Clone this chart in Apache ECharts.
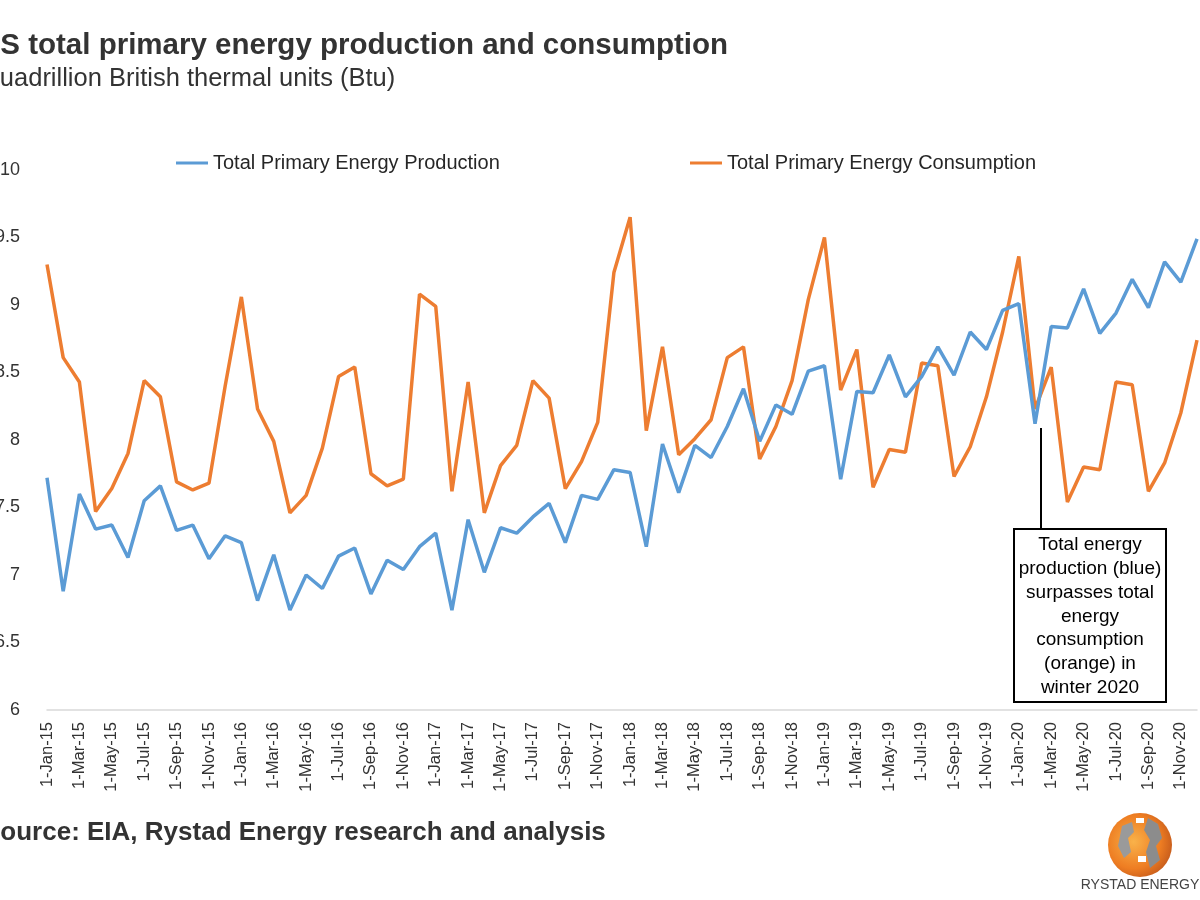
<!DOCTYPE html>
<html>
<head>
<meta charset="utf-8">
<script src="https://cdn.jsdelivr.net/npm/echarts@6/dist/echarts.min.js"></script>
<style>
html,body{margin:0;padding:0;background:#fff;}
#chart{width:1200px;height:900px;}
</style>
</head>
<body>
<div id="chart"></div>
<script>
const monthNames = ['Jan','Feb','Mar','Apr','May','Jun','Jul','Aug','Sep','Oct','Nov','Dec'];
const years = ['15','16','17','18','19','20'];
const categories = [];
years.forEach(y => monthNames.forEach(m => categories.push('1-' + m + '-' + y)));

const production = [
  7.72, 6.88, 7.60, 7.34, 7.37, 7.13, 7.55, 7.66, 7.33, 7.37, 7.12, 7.29,
  7.24, 6.81, 7.15, 6.74, 7.00, 6.90, 7.14, 7.20, 6.86, 7.11, 7.04, 7.21,
  7.31, 6.74, 7.41, 7.02, 7.35, 7.31, 7.43, 7.53, 7.24, 7.59, 7.56, 7.78,
  7.76, 7.21, 7.97, 7.61, 7.96, 7.87, 8.10, 8.38, 7.99, 8.26, 8.19, 8.51,
  8.55, 7.71, 8.36, 8.35, 8.63, 8.32, 8.47, 8.69, 8.48, 8.80, 8.67, 8.96,
  9.01, 8.12, 8.84, 8.83, 9.12, 8.79, 8.94, 9.19, 8.98, 9.32, 9.17, 9.49
];
const consumption = [
  9.30, 8.61, 8.43, 7.47, 7.64, 7.90, 8.44, 8.32, 7.69, 7.63, 7.68, 8.40,
  9.06, 8.23, 7.99, 7.46, 7.59, 7.94, 8.47, 8.54, 7.75, 7.66, 7.71, 9.08,
  8.99, 7.62, 8.43, 7.46, 7.81, 7.96, 8.44, 8.31, 7.64, 7.84, 8.13, 9.24,
  9.65, 8.07, 8.69, 7.89, 8.01, 8.15, 8.61, 8.69, 7.86, 8.10, 8.44, 9.04,
  9.50, 8.37, 8.67, 7.65, 7.93, 7.91, 8.57, 8.55, 7.73, 7.95, 8.32, 8.80,
  9.36, 8.23, 8.54, 7.54, 7.80, 7.78, 8.43, 8.41, 7.62, 7.83, 8.20, 8.74
];
const seriesNames = ['Total Primary Energy Production', 'Total Primary Energy Consumption'];
const colors = ['#5B9BD5', '#ED7D31'];
const annotationLines = ['Total energy', 'production (blue)', 'surpasses total', 'energy', 'consumption', '(orange) in', 'winter 2020'];

const chart = echarts.init(document.getElementById('chart'), null, {renderer: 'canvas'});
const FONT = '"Liberation Sans", Arial, sans-serif';

const option = {
  backgroundColor: '#ffffff',
  animation: false,
  textStyle: {fontFamily: FONT},
  grid: {left: 47, right: 3, top: 170, bottom: 190, containLabel: false, outerBoundsMode: 'none'},
  legend: [
    {data: [seriesNames[0]], left: 171, top: 148, icon: 'rect', itemWidth: 32, itemHeight: 3,
     textStyle: {fontSize: 20, color: '#262626', fontFamily: FONT}},
    {data: [seriesNames[1]], left: 685, top: 148, icon: 'rect', itemWidth: 32, itemHeight: 3,
     textStyle: {fontSize: 20, color: '#262626', fontFamily: FONT}}
  ],
  xAxis: {
    type: 'category',
    data: categories,
    boundaryGap: false,
    axisLine: {show: true, lineStyle: {color: '#d9d9d9', width: 1.5}},
    axisTick: {show: false},
    axisLabel: {interval: 1, rotate: 90, fontSize: 16.5, color: '#333', margin: 12, fontFamily: FONT},
    splitLine: {show: false}
  },
  yAxis: {
    type: 'value',
    min: 6, max: 10, interval: 0.5,
    axisLine: {show: false},
    axisTick: {show: false},
    splitLine: {show: false},
    axisLabel: {fontSize: 18, color: '#333', margin: 27, fontFamily: FONT}
  },
  series: [
    {name: seriesNames[0], type: 'line', data: production, symbol: 'none',
     lineStyle: {color: colors[0], width: 3.5}, itemStyle: {color: colors[0]}, z: 3},
    {name: seriesNames[1], type: 'line', data: consumption, symbol: 'none',
     lineStyle: {color: colors[1], width: 3.5}, itemStyle: {color: colors[1]}, z: 2}
  ],
  graphic: [
    {type: 'text', left: -21, top: 31, style: {text: 'US total primary energy production and consumption',
      font: 'bold 29.5px ' + FONT, fill: '#333333'}},
    {type: 'text', left: -20, top: 66, style: {text: 'Quadrillion British thermal units (Btu)',
      font: '25.5px ' + FONT, fill: '#333333'}},
    {type: 'text', left: -17, top: 820, style: {text: 'Source: EIA, Rystad Energy research and analysis',
      font: 'bold 26px ' + FONT, fill: '#333333'}},
    // annotation
    {type: 'line', shape: {x1: 1041, y1: 428, x2: 1041, y2: 529}, style: {stroke: '#000', lineWidth: 2}, z: 10},
    {type: 'rect', shape: {x: 1014, y: 529, width: 152, height: 173}, style: {fill: '#fff', stroke: '#000', lineWidth: 2}, z: 10},
    {type: 'text', x: 1090, y: 533, z: 11, style: {text: annotationLines.join('\n'), font: '19px ' + FONT,
      fill: '#000', align: 'center', verticalAlign: 'top', lineHeight: 23.8}},
    // logo
    {type: 'circle', shape: {cx: 1140, cy: 845, r: 32}, z: 10,
     style: {fill: new echarts.graphic.RadialGradient(0.4, 0.45, 0.7, [
       {offset: 0, color: '#f9b24a'}, {offset: 0.6, color: '#ee7d22'}, {offset: 1, color: '#b8501a'}])}},
    {type: 'polygon', z: 11, shape: {points: [[1122,826],[1132,822],[1134,832],[1128,838],[1131,852],[1124,858],[1118,846]]},
     style: {fill: '#9a9a9a'}},
    {type: 'polygon', z: 11, shape: {points: [[1148,818],[1158,824],[1162,838],[1156,846],[1160,860],[1150,868],[1146,852],[1150,840],[1144,830]]},
     style: {fill: '#8c8c8c'}},
    {type: 'rect', z: 11, shape: {x: 1138, y: 856, width: 8, height: 6}, style: {fill: '#ffffff'}},
    {type: 'rect', z: 11, shape: {x: 1136, y: 818, width: 8, height: 5}, style: {fill: '#ffffff'}},
    {type: 'text', x: 1140, y: 878, z: 11, style: {text: 'RYSTAD ENERGY', font: '14px ' + FONT,
      fill: '#444', align: 'center', verticalAlign: 'top'}}
  ]
};
chart.setOption(option);
</script>
</body>
</html>
